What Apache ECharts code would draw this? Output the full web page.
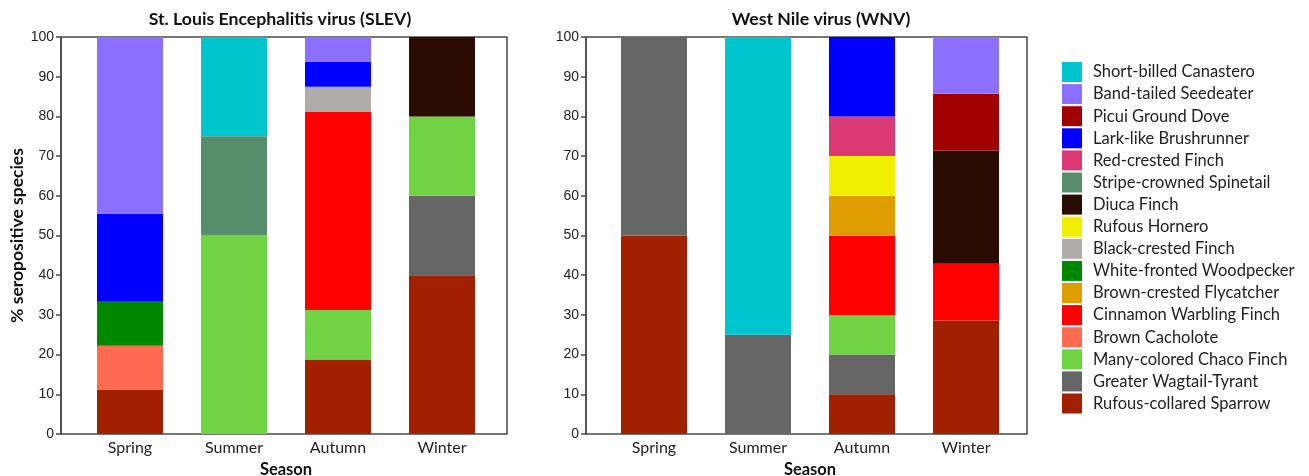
<!DOCTYPE html>
<html>
<head>
<meta charset="utf-8">
<script src="https://cdn.jsdelivr.net/npm/echarts@6/dist/echarts.min.js"></script>
<style>
  html, body { margin: 0; padding: 0; background: #fff; }
  #chart { width: 1309px; height: 476px; }
</style>
</head>
<body>
<div id="chart"></div>
<script>
const seasons = ['Spring', 'Summer', 'Autumn', 'Winter'];

// stack order, bottom to top
const species = [
  'Rufous-collared Sparrow',
  'Greater Wagtail-Tyrant',
  'Many-colored Chaco Finch',
  'Brown Cacholote',
  'Cinnamon Warbling Finch',
  'Brown-crested Flycatcher',
  'White-fronted Woodpecker',
  'Black-crested Finch',
  'Rufous Hornero',
  'Diuca Finch',
  'Stripe-crowned Spinetail',
  'Red-crested Finch',
  'Lark-like Brushrunner',
  'Picui Ground Dove',
  'Band-tailed Seedeater',
  'Short-billed Canastero'
];

const speciesColors = [
  '#a02000', '#666666', '#6fd344', '#ff6b50', '#ff0000', '#de9d00',
  '#008800', '#b0acaa', '#f0f000', '#2a0c03', '#578d6a', '#db3a75',
  '#0000ff', '#a00000', '#8b70ff', '#00c5cd'
];

// % per species (rows, same order as species) by season (Spring, Summer, Autumn, Winter)
const slevData = [
  [11.1, 0, 18.75, 40],
  [0, 0, 0, 20],
  [0, 50, 12.5, 20],
  [11.1, 0, 0, 0],
  [0, 0, 50, 0],
  [0, 0, 0, 0],
  [11.1, 0, 0, 0],
  [0, 0, 6.25, 0],
  [0, 0, 0, 0],
  [0, 0, 0, 20],
  [0, 25, 0, 0],
  [0, 0, 0, 0],
  [22.2, 0, 6.25, 0],
  [0, 0, 0, 0],
  [44.5, 0, 6.25, 0],
  [0, 25, 0, 0]
];

const wnvData = [
  [50, 0, 10, 28.57],
  [50, 25, 10, 0],
  [0, 0, 10, 0],
  [0, 0, 0, 0],
  [0, 0, 20, 14.29],
  [0, 0, 10, 0],
  [0, 0, 0, 0],
  [0, 0, 0, 0],
  [0, 0, 10, 0],
  [0, 0, 0, 28.57],
  [0, 0, 0, 0],
  [0, 0, 10, 0],
  [0, 0, 20, 0],
  [0, 0, 0, 14.28],
  [0, 0, 0, 14.29],
  [0, 75, 0, 0]
];

const yTicks = { min: 0, max: 100, interval: 10 };

const chart = echarts.init(document.getElementById('chart'));

const frameColor = '#4a4a4a';

// grids 0/1: outer frames with the % axis; grids 2/3: bar areas (narrower, so bars sit off-centre like the original)
const frameGrid = (left, width) => ({
  left: left, top: 37, width: width, height: 397,
  show: true, borderColor: frameColor, borderWidth: 1.5, backgroundColor: 'transparent',
  outerBoundsMode: 'none'
});
const barGrid = (left) => ({
  left: left, top: 37, width: 416, height: 397, outerBoundsMode: 'none'
});

const makeSeries = (data, idx, stack) => species.map((name, i) => ({
  name: name,
  type: 'bar',
  stack: stack,
  xAxisIndex: idx,
  yAxisIndex: idx,
  barWidth: 66,
  data: data[i].map(v => (v === 0 ? '-' : v)),
  itemStyle: { color: speciesColors[i] }
}));

const frameX = (gridIndex) => ({ type: 'category', gridIndex: gridIndex, data: seasons, show: false });

const barX = (gridIndex) => ({
  type: 'category',
  gridIndex: gridIndex,
  data: seasons,
  name: 'Season',
  nameLocation: 'middle',
  nameGap: 23,
  nameTextStyle: { fontFamily: 'Lato', fontWeight: 'bold', fontSize: 16.5, color: '#111' },
  axisLine: { show: false },
  axisTick: { show: false },
  axisLabel: { fontFamily: 'Lato', fontSize: 16, color: '#222', margin: 6 }
});

const frameY = (gridIndex, withName) => ({
  type: 'value',
  gridIndex: gridIndex,
  min: yTicks.min,
  max: yTicks.max,
  interval: yTicks.interval,
  name: withName ? '% seropositive species' : '',
  nameLocation: 'middle',
  nameGap: 31,
  nameTextStyle: { fontFamily: 'Lato', fontWeight: 'bold', fontSize: 17.5, color: '#111' },
  axisLine: { show: true, lineStyle: { color: frameColor, width: 1.5 } },
  axisTick: { show: true, length: 5, lineStyle: { color: frameColor, width: 1.5 } },
  axisLabel: { fontFamily: 'Liberation Sans', fontSize: 14, color: '#222', margin: 7 },
  splitLine: { show: false }
});

const barY = (gridIndex) => ({
  type: 'value', gridIndex: gridIndex, min: yTicks.min, max: yTicks.max, show: false
});

const option = {
  backgroundColor: '#fff',
  animation: false,
  title: [
    {
      text: 'St. Louis Encephalitis virus (SLEV)',
      left: 275, top: 5, textAlign: 'center',
      textStyle: { fontFamily: 'Lato', fontWeight: 'bold', fontSize: 17.7, color: '#111' }
    },
    {
      text: 'West Nile virus (WNV)',
      left: 816, top: 5, textAlign: 'center',
      textStyle: { fontFamily: 'Lato', fontWeight: 'bold', fontSize: 17.7, color: '#111' }
    }
  ],
  legend: {
    orient: 'vertical',
    left: 1057,
    top: 57,
    itemWidth: 20,
    itemHeight: 20,
    itemGap: 2.1,
    icon: 'rect',
    data: species.slice().reverse(),
    textStyle: { fontFamily: 'Lato', fontSize: 16.5, color: '#222', padding: [0, 0, 0, 6] }
  },
  grid: [frameGrid(61, 446), frameGrid(586, 441), barGrid(78), barGrid(602)],
  xAxis: [frameX(0), frameX(1), barX(2), barX(3)],
  yAxis: [frameY(0, true), frameY(1, false), barY(2), barY(3)],
  series: [
    ...makeSeries(slevData, 2, 'slev'),
    ...makeSeries(wnvData, 3, 'wnv')
  ]
};

chart.setOption(option);
window.addEventListener('resize', () => chart.resize());
</script>
</body>
</html>
